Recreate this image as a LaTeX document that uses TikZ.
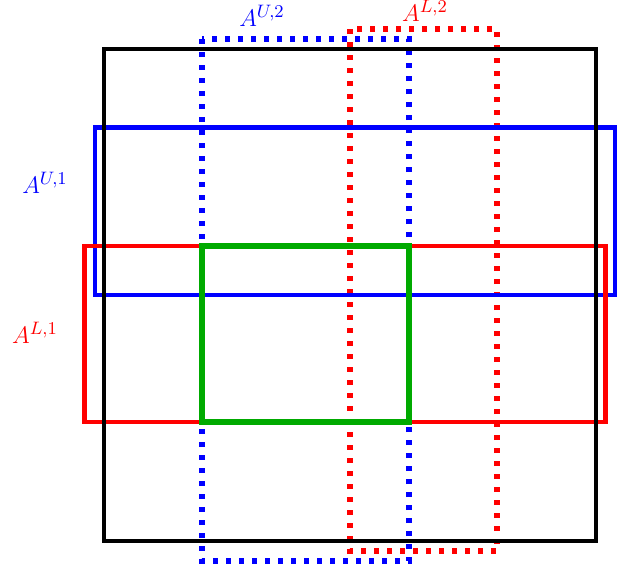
\documentclass[tikz,border=0pt]{standalone}
\begin{document}
\begin{tikzpicture}[x=0.5pt,y=-0.5pt,
  box/.style={line width=2.4pt},
  dotbox/.style={line width=2.7pt, dash pattern=on 2.7pt off 3.8pt},
  lab/.style={font=\fontsize{13}{15}\selectfont, inner sep=0pt}]
\definecolor{mygreen}{RGB}{0,170,0}
\useasboundingbox (0,0) rectangle (627,570);
\draw[dotbox, blue] (202,39) rectangle (409,561);
\draw[dotbox, red] (350,29) rectangle (497,551);
\draw[box, blue] (95,127.5) rectangle (615,295);
\draw[box, red] (84.5,246) rectangle (605.5,422);
\draw[box, mygreen, line width=3pt] (202,246) rectangle (409,422);
\draw[box, black] (104,49) rectangle (596,541);
\node[lab, text=blue] (au2) at (262,16) {$A^{U,2}$};
\node[lab, text=red] (al2) at (425,11) {$A^{L,2}$};
\node[lab, text=blue] (au1) at (45,183) {$A^{U,1}$};
\node[lab, text=red] (al1) at (35,333) {$A^{L,1}$};
\end{tikzpicture}
\end{document}
